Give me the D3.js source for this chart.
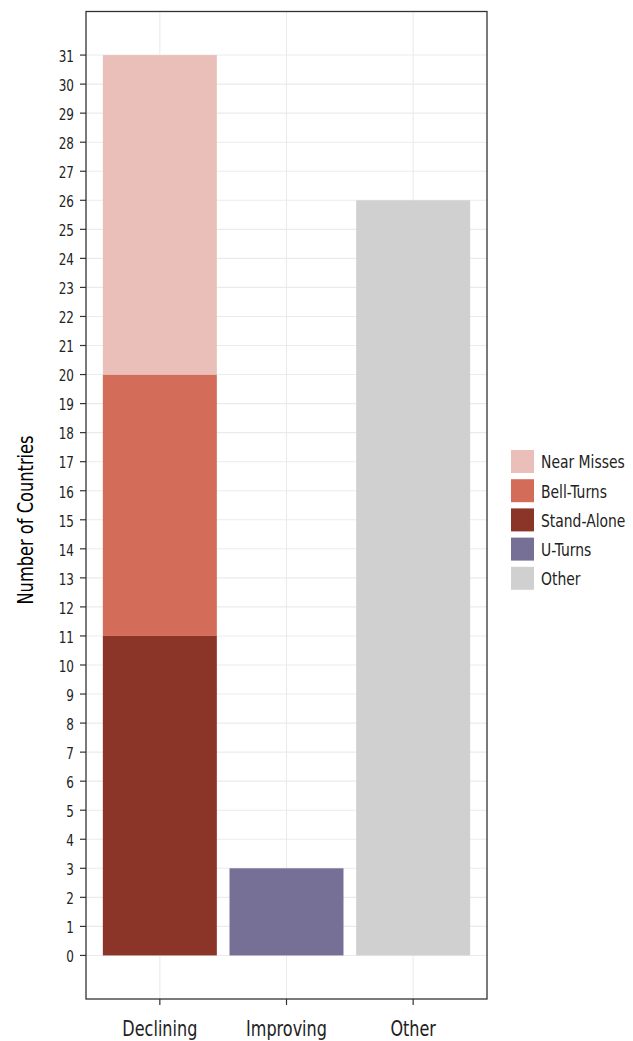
<!DOCTYPE html>
<html><head><meta charset="utf-8">
<script src="https://cdn.jsdelivr.net/npm/d3@7"></script>
<style>body{margin:0;background:#fff}</style>
</head><body>
<script>
const categories = ["Declining", "Improving", "Other"];
const seriesNames = ["Near Misses", "Bell-Turns", "Stand-Alone", "U-Turns", "Other"];
const seriesColors = ["#ebbfb9", "#d46c5a", "#8b3428", "#767096", "#d0d0d0"];
// values per series for each category
const nearMisses = [11, 0, 0];
const bellTurns = [9, 0, 0];
const standAlone = [11, 0, 0];
const uTurns = [0, 3, 0];
const other = [0, 0, 26];
const yTicks = d3.range(0, 32);

const W = 633, H = 1041;
const font = "'DejaVu Sans Condensed','DejaVu Sans',sans-serif";
const svg = d3.select("body").append("svg").attr("width", W).attr("height", H)
  .style("font-family", font);

const L = 86, R = 487, T = 11.5, B = 999;
const x = d3.scaleBand().domain(categories).range([L, R]).paddingInner(0.1).paddingOuter(0.133);
const y = d3.scaleLinear().domain([-1.5, 32.5]).range([B, T]);
const cx = d => x(d) + x.bandwidth() / 2;

// gridlines
const g = svg.append("g");
g.selectAll(".hg").data(yTicks).join("line")
  .attr("x1", L).attr("x2", R).attr("y1", d => y(d)).attr("y2", d => y(d))
  .attr("stroke", "#ebebeb").attr("stroke-width", 1.1);
g.selectAll(".vg").data(categories).join("line")
  .attr("x1", cx).attr("x2", cx)
  .attr("y1", T).attr("y2", B).attr("stroke", "#ebebeb").attr("stroke-width", 1.1);

// stacked data
const rows = categories.map((c, i) => ({
  cat: c, "Near Misses": nearMisses[i], "Bell-Turns": bellTurns[i],
  "Stand-Alone": standAlone[i], "U-Turns": uTurns[i], "Other": other[i]
}));
const stackKeys = ["Other", "U-Turns", "Stand-Alone", "Bell-Turns", "Near Misses"];
const stacked = d3.stack().keys(stackKeys)(rows);
const color = d3.scaleOrdinal().domain(seriesNames).range(seriesColors);

svg.append("g").selectAll("g").data(stacked).join("g")
  .attr("fill", d => color(d.key))
  .selectAll("rect").data(d => d.filter(p => p[1] - p[0] > 0)).join("rect")
  .attr("x", d => x(d.data.cat)).attr("width", x.bandwidth())
  .attr("y", d => y(d[1])).attr("height", d => y(d[0]) - y(d[1]));

// panel border
svg.append("rect").attr("x", L).attr("y", T).attr("width", R - L).attr("height", B - T)
  .attr("fill", "none").attr("stroke", "#333333").attr("stroke-width", 1.3);

// y axis
const ya = svg.append("g");
ya.selectAll("line").data(yTicks).join("line")
  .attr("x1", L - 6).attr("x2", L).attr("y1", d => y(d)).attr("y2", d => y(d))
  .attr("stroke", "#333").attr("stroke-width", 1.2);
ya.selectAll("text").data(yTicks).join("text")
  .attr("transform", d => `translate(${L - 12},${y(d) + 6.8}) scale(0.89,1)`)
  .attr("text-anchor", "end").attr("font-size", 15).attr("fill", "#222").text(d => d);

// x axis
const xa = svg.append("g");
xa.selectAll("line").data(categories).join("line")
  .attr("x1", cx).attr("x2", cx)
  .attr("y1", B).attr("y2", B + 6).attr("stroke", "#333").attr("stroke-width", 1.2);
xa.selectAll("text").data(categories).join("text")
  .attr("transform", d => `translate(${cx(d)},1035.5) scale(0.83,1)`)
  .attr("text-anchor", "middle").attr("font-size", 21.5).attr("fill", "#222").text(d => d);

// y title
svg.append("text").attr("transform", `translate(32.5,520) rotate(-90) scale(0.84,1)`)
  .attr("text-anchor", "middle").attr("font-size", 21.5).attr("fill", "#000")
  .text("Number of Countries");

// legend
const lg = svg.append("g").attr("transform", "translate(511,450)");
const items = lg.selectAll("g").data(seriesNames).join("g")
  .attr("transform", (d, i) => `translate(0,${i * 29.2})`);
items.append("rect").attr("width", 23).attr("height", 23).attr("fill", d => color(d));
items.append("text").attr("transform", "translate(30,18.3) scale(0.86,1)")
  .attr("font-size", 18).attr("fill", "#222").text(d => d);
</script>
</body></html>
